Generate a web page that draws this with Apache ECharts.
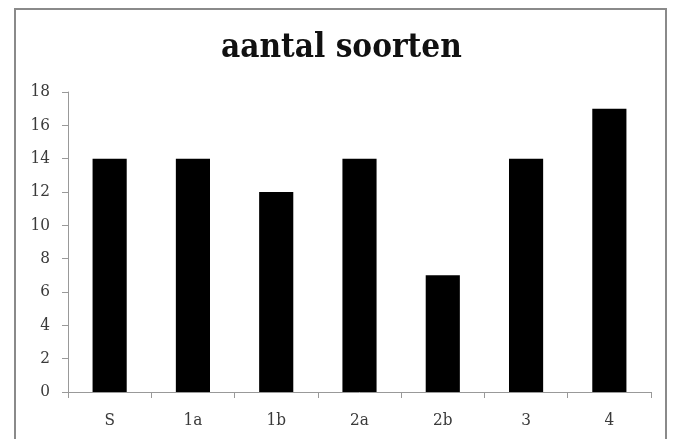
<!DOCTYPE html>
<html>
<head>
<meta charset="utf-8">
<script src="https://cdn.jsdelivr.net/npm/echarts@6/dist/echarts.min.js"></script>
<style>
html,body{margin:0;padding:0;background:#fff;}
#c{width:673px;height:439px;}
</style>
</head>
<body>
<div id="c"></div>
<script>
const categories = ['S', '1a', '1b', '2a', '2b', '3', '4'];
const values = [14, 14, 12, 14, 7, 14, 17];
const titleText = 'aantal soorten';

const chart = echarts.init(document.getElementById('c'));
chart.setOption({
  animation: false,
  backgroundColor: '#fff',
  title: {
    text: titleText,
    left: 216,
    top: 27,
    textStyle: { fontFamily: '"DejaVu Serif Condensed", "DejaVu Serif"', fontWeight: 'bold', fontSize: 33, color: '#111' }
  },
  graphic: [{
    type: 'rect',
    shape: { x: 15, y: 9, width: 651, height: 440 },
    style: { fill: 'none', stroke: '#8a8a8a', lineWidth: 2 },
    silent: true
  }],
  grid: { left: 68, right: 22, top: 92, bottom: 47 },
  xAxis: {
    type: 'category',
    data: categories,
    axisLine: { lineStyle: { color: '#999', width: 1 } },
    axisTick: { show: true, alignWithLabel: false, length: 6, lineStyle: { color: '#999' } },
    axisLabel: { fontFamily: '"DejaVu Serif Condensed", "DejaVu Serif"', fontSize: 17, color: '#3a3a3a', margin: 20 }
  },
  yAxis: {
    type: 'value',
    min: 0, max: 18, interval: 2,
    axisLine: { show: true, lineStyle: { color: '#999', width: 1 } },
    axisTick: { show: true, length: 6, lineStyle: { color: '#999' } },
    splitLine: { show: false },
    axisLabel: { fontFamily: '"DejaVu Serif Condensed", "DejaVu Serif"', fontSize: 17, color: '#3a3a3a', margin: 18 }
  },
  series: [{
    type: 'bar',
    data: values,
    barWidth: '41%',
    itemStyle: { color: '#000' }
  }]
});
</script>
</body>
</html>
